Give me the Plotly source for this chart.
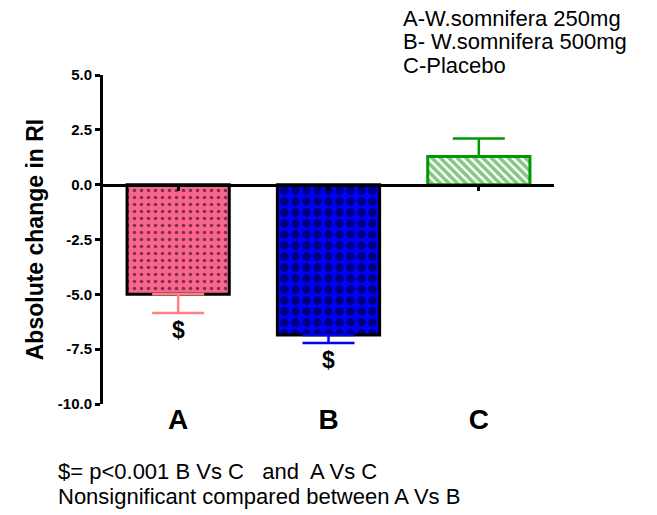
import plotly.graph_objects as go

categories = ["A", "B", "C"]
values = [-5.0, -6.85, 1.28]
err_minus = [0.85, 0.37, 0.0]
err_plus = [0.0, 0.0, 0.82]
sig_labels = ["$", "$", ""]
legend_lines = ["A-W.somnifera 250mg", "B- W.somnifera 500mg", "C-Placebo"]
footnote_lines = ["$= p<0.001 B Vs C   and  A Vs C",
                  "Nonsignificant compared between A Vs B"]
y_ticks = [-10.0, -7.5, -5.0, -2.5, 0.0, 2.5, 5.0]
y_tick_text = ["-10.0", "-7.5", "-5.0", "-2.5", "0.0", "2.5", "5.0"]

W, H = 657, 515
ML, MR, MT, MB = 103, 103, 75, 111
FONT = "Arial, Liberation Sans, sans-serif"

fills = ["#fa6590", "#0000ff", "#ffffff"]
pat_shapes = [".", ".", "\\"]
pat_fg = ["#000000", "#000000", "#0e900e"]
pat_size = [7, 11, 6]
pat_sol = [0.2, 0.5, 0.6]
borders = ["#000000", "#000000", "#009900"]
err_colors = ["#ff8080", "#0000ff", "#009900"]

fig = go.Figure()
for i, c in enumerate(categories):
    fig.add_trace(go.Bar(
        x=[c], y=[values[i]],
        width=0.68,
        marker=dict(color=fills[i],
                    line=dict(color=borders[i], width=3),
                    pattern=dict(shape=pat_shapes[i], fgcolor=pat_fg[i],
                                 bgcolor=fills[i], size=pat_size[i],
                                 solidity=pat_sol[i], fillmode="overlay")),
        error_y=dict(type="data", symmetric=False,
                     array=[err_plus[i]], arrayminus=[err_minus[i]],
                     color=err_colors[i], thickness=2.5, width=26),
        showlegend=False, hoverinfo="skip",
    ))

# invisible trace to carry the zero-level axis
fig.add_trace(go.Scatter(x=categories, y=[None] * 3, xaxis="x2",
                         showlegend=False, hoverinfo="skip"))

ymin, ymax = -10.0, 5.0
zero_pos = (0 - ymin) / (ymax - ymin)
plot_h = H - MT - MB
plot_w = W - ML - MR

fig.update_layout(
    width=W, height=H,
    margin=dict(l=ML, r=MR, t=MT, b=MB),
    paper_bgcolor="white", plot_bgcolor="white",
    barmode="overlay",
    font=dict(family=FONT, color="black"),
    xaxis=dict(type="category", categoryorder="array", categoryarray=categories,
               range=[-0.5, 2.5], showline=False, showgrid=False, zeroline=False,
               anchor="free", position=4 / plot_h,
               ticks="", tickfont=dict(size=28, family=FONT, weight="bold"),
               ticklabelstandoff=0),
    xaxis2=dict(type="category", categoryorder="array", categoryarray=categories,
                range=[-0.5, 2.5], overlaying="x", anchor="free",
                position=zero_pos, side="bottom",
                showline=True, linecolor="black", linewidth=2.5,
                ticks="outside", ticklen=5, tickwidth=2.5, tickcolor="black",
                showticklabels=False, showgrid=False, zeroline=False),
    yaxis=dict(range=[ymin, ymax], tickvals=y_ticks, ticktext=y_tick_text,
               showline=True, linecolor="black", linewidth=3,
               ticks="outside", ticklen=5, tickwidth=2.5, tickcolor="black",
               showgrid=False, zeroline=False,
               tickfont=dict(size=15, family=FONT, weight="bold"),
               title=dict(text="Absolute change in RI",
                          font=dict(size=23, family=FONT, weight="bold"),
                          standoff=8)),
)

# significance markers under error bars
for i, c in enumerate(categories):
    if sig_labels[i]:
        fig.add_annotation(x=c, y=values[i] - err_minus[i], xref="x", yref="y",
                           text=sig_labels[i], showarrow=False,
                           yanchor="top", yshift=-2,
                           font=dict(size=23, family=FONT, weight="bold"))

def px_to_paper(px, py):
    return (px - ML) / plot_w, (H - MB - py) / plot_h

legend_y_px = [19, 42, 65]
for t, yp in zip(legend_lines, legend_y_px):
    xx, yy = px_to_paper(401, yp)
    fig.add_annotation(x=xx, y=yy, xref="paper", yref="paper", text=t,
                       showarrow=False, xanchor="left", yanchor="middle",
                       font=dict(size=22, family=FONT))

foot_y_px = [471, 496]
for t, yp in zip(footnote_lines, foot_y_px):
    xx, yy = px_to_paper(56, yp)
    fig.add_annotation(x=xx, y=yy, xref="paper", yref="paper", text=t,
                       showarrow=False, xanchor="left", yanchor="middle",
                       font=dict(size=22, family=FONT))

fig.write_html("out.html")
